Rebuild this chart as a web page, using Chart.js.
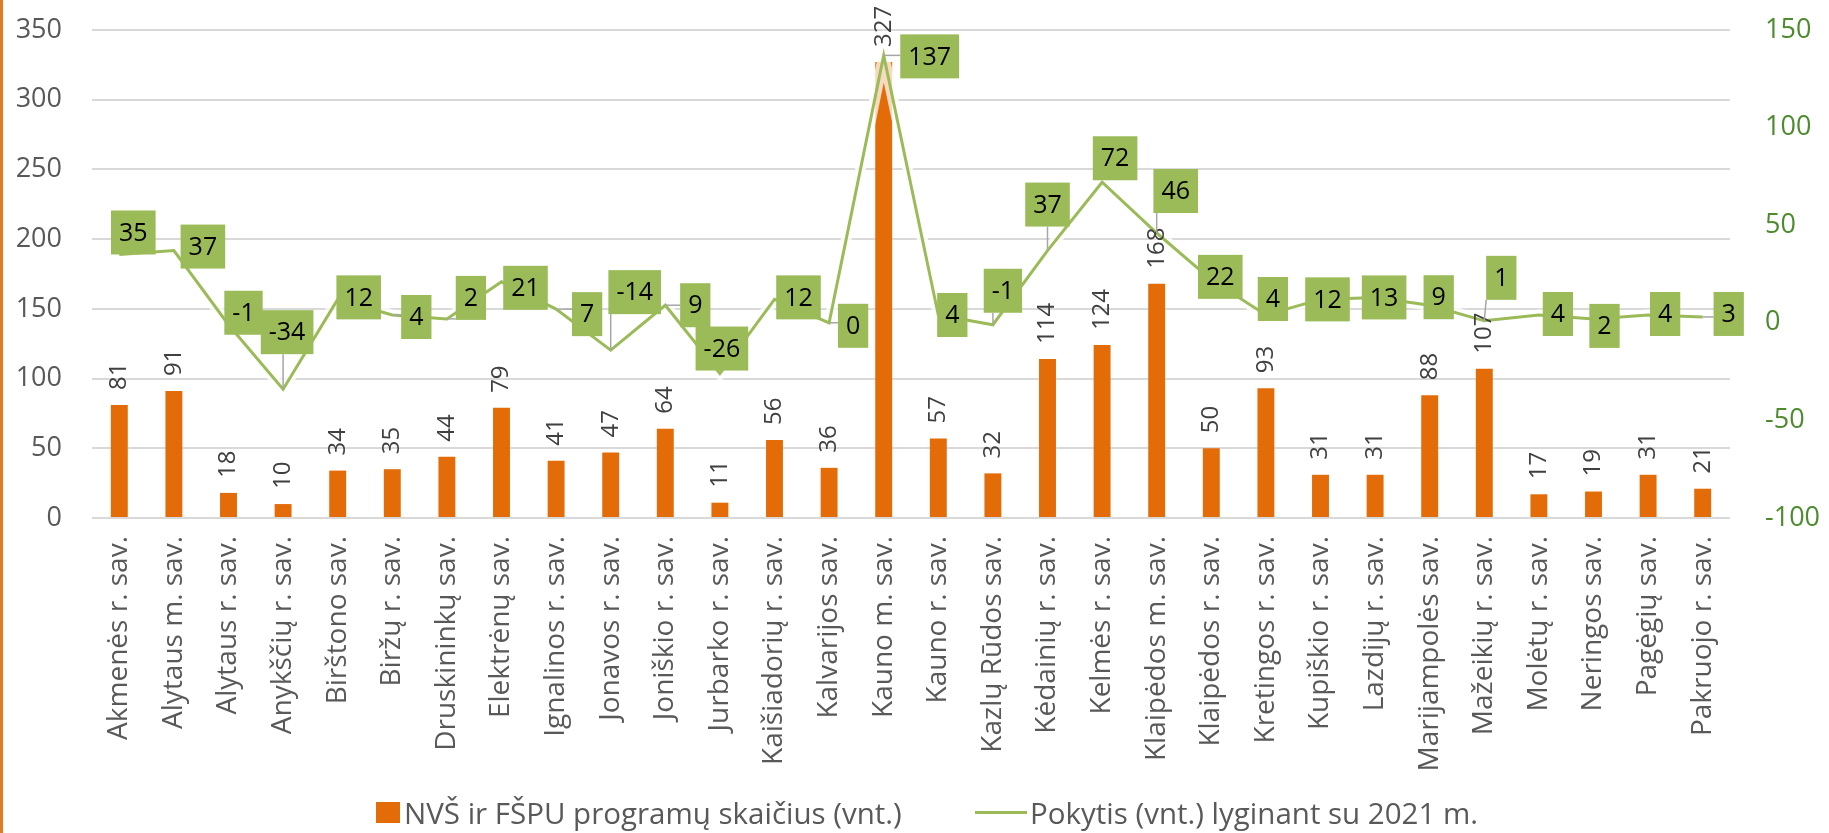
<!DOCTYPE html>
<html lang="lt">
<head>
<meta charset="utf-8">
<title>NVŠ ir FŠPU programos</title>
<script src="https://cdn.jsdelivr.net/npm/chart.js@4.4.1/dist/chart.umd.min.js"></script>
<style>
    html, body { margin: 0; padding: 0; background: #fff; }
    #wrap { position: relative; width: 1829px; height: 833px; overflow: hidden; }
    #edge { position: absolute; left: 0; top: 0; width: 3px; height: 833px; background: #E07B20; }
    .leg {
        position: absolute; top: 792px;
        display: flex; align-items: center;
        font-family: "Liberation Sans Narrow", "Open Sans", sans-serif;
        font-size: 29.5px; color: #595959; white-space: nowrap;
    }
    .leg .box { width: 24px; height: 21px; background: #E36C09; margin-right: 4px; }
    .leg .ln { width: 52px; height: 3px; background: #9BBB59; margin-right: 3px; }
</style>
</head>
<body>
<div id="wrap">
    <canvas id="myChart" width="1829" height="833"></canvas>
    <div id="edge"></div>
    <div class="leg" style="left:376px"><span class="box"></span><span>NVŠ ir FŠPU programų skaičius (vnt.)</span></div>
    <div class="leg" style="left:975px"><span class="ln"></span><span>Pokytis (vnt.) lyginant su 2021 m.</span></div>
</div>
<script>
// Savivaldybės
const categories = [
    'Akmenės r. sav.', 'Alytaus m. sav.', 'Alytaus r. sav.', 'Anykščių r. sav.', 'Birštono sav.',
    'Biržų r. sav.', 'Druskininkų sav.', 'Elektrėnų sav.', 'Ignalinos r. sav.', 'Jonavos r. sav.',
    'Joniškio r. sav.', 'Jurbarko r. sav.', 'Kaišiadorių r. sav.', 'Kalvarijos sav.', 'Kauno m. sav.',
    'Kauno r. sav.', 'Kazlų Rūdos sav.', 'Kėdainių r. sav.', 'Kelmės r. sav.', 'Klaipėdos m. sav.',
    'Klaipėdos r. sav.', 'Kretingos r. sav.', 'Kupiškio r. sav.', 'Lazdijų r. sav.', 'Marijampolės sav.',
    'Mažeikių r. sav.', 'Molėtų r. sav.', 'Neringos sav.', 'Pagėgių sav.', 'Pakruojo r. sav.'
];

// NVŠ ir FŠPU programų skaičius (vnt.)
const programCounts = [81, 91, 18, 10, 34, 35, 44, 79, 41, 47, 64, 11, 56, 36, 327,
                       57, 32, 114, 124, 168, 50, 93, 31, 31, 88, 107, 17, 19, 31, 21];

// Pokytis (vnt.) lyginant su 2021 m.
const changeVs2021 = [35, 37, -1, -34, 12, 4, 2, 21, 7, -14, 9, -26, 12, 0, 137,
                      4, -1, 37, 72, 46, 22, 4, 12, 13, 9, 1, 4, 2, 4, 3];

// Etikečių poslinkis nuo taško (px), kaip rankiniu būdu perkeltos Excel etiketės
const changeLabelNudge = [
    [14, -22], [29, -4], [15, -12], [4, -57], [21, -2], [24, 2], [24, -21], [24, 6], [31, 5], [24, -58],
    [30, 0], [2, -25], [24, -2], [24, 3], [46, 1], [14, 0], [10, -34], [0, -46], [13, -24], [19, -42],
    [9, -3], [7, -16], [7, 0], [9, 0], [9, -8], [17, -43], [19, -1], [11, 7], [17, -1], [26, -3]
];

const FONT = '"Open Sans", "DejaVu Sans", sans-serif';

// Reikšmių etiketės stulpeliams ir linijai
const valueLabels = {
    id: 'valueLabels',
    afterDatasetsDraw(chart) {
        const ctx = chart.ctx;
        ctx.save();

        // stulpelių etiketės, pasuktos 90°
        const barMeta = chart.getDatasetMeta(2);
        ctx.font = '24px ' + FONT;
        ctx.fillStyle = '#404040';
        ctx.textAlign = 'left';
        ctx.textBaseline = 'middle';
        barMeta.data.forEach((bar, i) => {
            ctx.save();
            ctx.translate(bar.x, bar.y - 15);
            ctx.rotate(-Math.PI / 2);
            ctx.fillText(String(programCounts[i]), 0, 0);
            ctx.restore();
        });

        // linijos etiketės žaliuose langeliuose
        const lineMeta = chart.getDatasetMeta(0);
        ctx.font = '25px ' + FONT;
        lineMeta.data.forEach((pt, i) => {
            const txt = String(changeVs2021[i]);
            const w = ctx.measureText(txt).width + 16;
            const h = 44;
            const cx = pt.x + changeLabelNudge[i][0];
            const cy = pt.y + changeLabelNudge[i][1];
            const nx = Math.min(Math.max(pt.x, cx - w / 2), cx + w / 2);
            const ny = Math.min(Math.max(pt.y, cy - h / 2), cy + h / 2);
            if (Math.hypot(nx - pt.x, ny - pt.y) > 8) {
                ctx.strokeStyle = '#A6A6A6';
                ctx.lineWidth = 1.5;
                ctx.beginPath();
                ctx.moveTo(pt.x, pt.y);
                ctx.lineTo(nx, ny);
                ctx.stroke();
            }
            ctx.fillStyle = '#9BBB59';
            ctx.fillRect(cx - w / 2, cy - h / 2, w, h);
            ctx.fillStyle = '#000';
            ctx.textAlign = 'center';
            ctx.fillText(txt, cx, cy + 1);
        });
        ctx.restore();
    }
};

function renderChart() {
    const ctx = document.getElementById('myChart').getContext('2d');
    Chart.defaults.font.family = FONT;

    new Chart(ctx, {
        data: {
            labels: categories,
            datasets: [
                {
                    type: 'line',
                    label: 'Pokytis (vnt.) lyginant su 2021 m.',
                    data: changeVs2021,
                    yAxisID: 'y1',
                    borderColor: '#9BBB59',
                    borderWidth: 3,
                    pointRadius: 0,
                    tension: 0,
                    order: 1
                },
                {
                    // balta „švytėjimo" juosta po linija
                    type: 'line',
                    label: 'glow',
                    data: changeVs2021,
                    yAxisID: 'y1',
                    borderColor: 'rgba(255,255,255,0.75)',
                    borderWidth: 11,
                    pointRadius: 0,
                    tension: 0,
                    order: 2
                },
                {
                    type: 'bar',
                    label: 'NVŠ ir FŠPU programų skaičius (vnt.)',
                    data: programCounts,
                    yAxisID: 'y',
                    backgroundColor: '#E36C09',
                    barPercentage: 0.31,
                    categoryPercentage: 1,
                    order: 3
                }
            ]
        },
        options: {
            responsive: false,
            animation: false,
            devicePixelRatio: 1,
            layout: { padding: { top: 30, bottom: 45, left: 0, right: 0 } },
            plugins: {
                legend: { display: false },
                tooltip: { enabled: false }
            },
            scales: {
                x: {
                    grid: { display: false, drawTicks: false },
                    border: { display: false },
                    ticks: {
                        autoSkip: false,
                        minRotation: 90,
                        maxRotation: 90,
                        padding: 18,
                        color: '#595959',
                        font: { size: 28 }
                    },
                    afterFit: (s) => { s.height = 270; }
                },
                y: {
                    position: 'left',
                    min: 0,
                    max: 350,
                    ticks: { stepSize: 50, padding: 30, color: '#595959', font: { size: 27 } },
                    grid: { color: '#D9D9D9', lineWidth: 2, drawTicks: false },
                    border: { display: false },
                    afterFit: (s) => { s.width = 92; s.paddingTop = 0; s.paddingBottom = 0; }
                },
                y1: {
                    position: 'right',
                    min: -100,
                    max: 150,
                    ticks: { stepSize: 50, padding: 35, color: '#4E8B2F', font: { size: 27 } },
                    grid: { display: false, drawTicks: false },
                    border: { display: false },
                    afterFit: (s) => { s.width = 99; s.paddingTop = 0; s.paddingBottom = 0; }
                }
            }
        },
        plugins: [valueLabels]
    });
}

document.fonts.load('27px "Open Sans"').then(renderChart, renderChart);
</script>
</body>
</html>
